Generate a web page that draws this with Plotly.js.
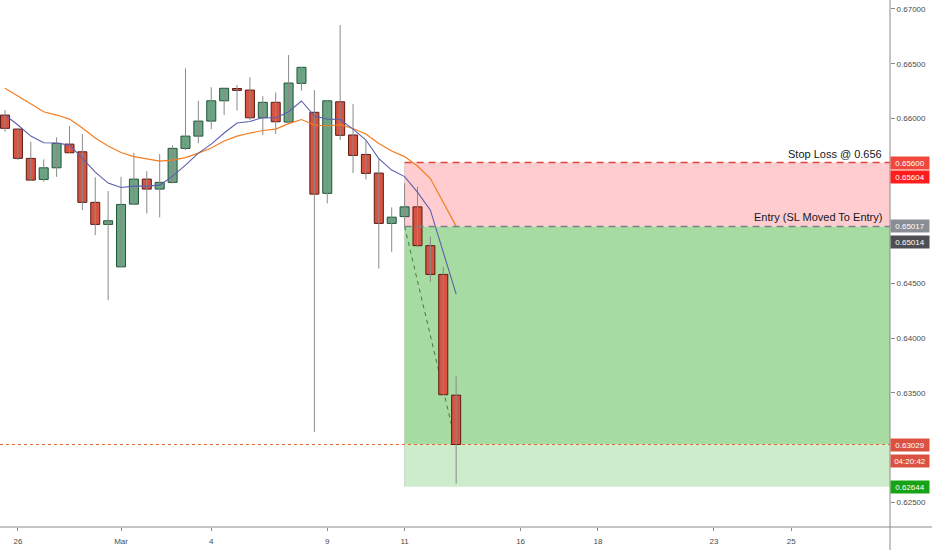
<!DOCTYPE html>
<html><head><meta charset="utf-8">
<script src="https://cdn.plot.ly/plotly-3.0.1.min.js"></script>
<style>html,body{margin:0;padding:0;background:#fff}#chart{width:932px;height:550px}</style>
</head><body><div id="chart"></div>
<script>
// ---- data ----
const xTickVals = [1, 9, 16, 25, 31, 40, 46, 55, 61];
const xTickText = ['26', 'Mar', '4', '9', '11', '16', '18', '23', '25'];
const yTickVals = [0.625, 0.635, 0.640, 0.645, 0.660, 0.665, 0.670];
const yTickText = ['0.62500', '0.63500', '0.64000', '0.64500', '0.66000', '0.66500', '0.67000'];

const open  = [0.66033,0.65905,0.65638,0.65446,0.65552,0.65768,0.65698,0.65237,0.65036,0.64649,0.65221,0.65449,0.65358,0.65419,0.65729,0.65841,0.65978,0.66163,0.66275,0.66261,0.66008,0.66149,0.65969,0.66322,0.66058,0.65319,0.66154,0.65851,0.65674,0.65504,0.65045,0.65107,0.65196,0.64842,0.64580,0.63479];
const high  = [0.66079,0.65914,0.65789,0.65629,0.65830,0.65933,0.65860,0.65465,0.65340,0.65470,0.65689,0.65522,0.65677,0.65759,0.66459,0.66163,0.66286,0.66279,0.66307,0.66377,0.66206,0.66240,0.66580,0.66471,0.66261,0.66170,0.66854,0.66133,0.65796,0.65638,0.65191,0.65410,0.65379,0.64925,0.64649,0.63652];
const low   = [0.65881,0.65622,0.65434,0.65424,0.65470,0.65684,0.65166,0.64938,0.64345,0.64644,0.65212,0.65136,0.65100,0.65410,0.65714,0.65775,0.65905,0.66033,0.66074,0.65987,0.65851,0.65860,0.65965,0.66255,0.63144,0.65227,0.65805,0.65504,0.65445,0.64634,0.64786,0.65023,0.64829,0.64512,0.63479,0.62673];
const close = [0.65912,0.65638,0.65440,0.65552,0.65775,0.65689,0.65237,0.65036,0.65069,0.65218,0.65449,0.65358,0.65419,0.65729,0.65841,0.65978,0.66163,0.66277,0.66258,0.66008,0.66149,0.65972,0.66325,0.66468,0.65312,0.66163,0.65848,0.65665,0.65501,0.65045,0.65102,0.65196,0.64842,0.64580,0.63483,0.63029];

const maFast = [0.66033,0.65942,0.65841,0.65780,0.65778,0.65759,0.65641,0.65513,0.65413,0.65372,0.65385,0.65385,0.65394,0.65476,0.65577,0.65686,0.65768,0.65869,0.65960,0.65974,0.66010,0.66006,0.66063,0.66161,0.66024,0.65996,0.65992,0.65905,0.65805,0.65636,0.65531,0.65472,0.65330,0.65166,0.64783,0.64400];
const maSlow = [0.66277,0.66206,0.66142,0.66063,0.66033,0.65996,0.65914,0.65823,0.65750,0.65691,0.65654,0.65632,0.65613,0.65622,0.65645,0.65686,0.65732,0.65796,0.65841,0.65869,0.65892,0.65905,0.65955,0.65992,0.65942,0.65933,0.65946,0.65910,0.65860,0.65773,0.65705,0.65654,0.65568,0.65454,0.65239,0.65020];

const entryPrice = 0.65017;
const stopPrice = 0.65600;
const targetPrice = 0.62644;
const lastPrice = 0.63029;
const entryBar = 31;
const lastBar = 35;

const stopText = 'Stop Loss @ 0.656';
const entryText = 'Entry (SL Moved To Entry)';
const scaleLabelValues = [0.65600, 0.65604, 0.65017, 0.65014, 0.63029, 0.63029, 0.62644];
const scaleLabelTexts  = ['0.65600', '0.65604', '0.65017', '0.65014', '0.63029', '04:20:42', '0.62644'];

// ---- build ----
const idx = open.map((_, i) => i);
const xMin = -0.39, xMax = 68.66;
const font = 'Liberation Sans, Arial, sans-serif';

const up = open.map((o, i) => close[i] >= o);
const bodyBase = open.map((o, i) => Math.min(o, close[i]));
const bodyH = open.map((o, i) => Math.abs(close[i] - o));

const traces = [
  {type: 'scatter', mode: 'lines', x: idx, y: maSlow, line: {color: '#f57c1f', width: 1.2}, hoverinfo: 'skip'},
  {type: 'scatter', mode: 'lines', x: idx, y: maFast, line: {color: '#5c5fae', width: 1.1}, hoverinfo: 'skip'},
  {type: 'ohlc', x: idx, open: open, high: high, low: low, close: close, tickwidth: 0,
   increasing: {line: {color: '#8a8a8a', width: 1}}, decreasing: {line: {color: '#8a8a8a', width: 1}}, hoverinfo: 'skip'},
  {type: 'bar', x: idx, base: bodyBase, y: bodyH, width: 0.7,
   marker: {color: up.map(u => u ? '#6ba583' : '#d75442'),
            line: {color: up.map(u => u ? '#225437' : '#5b1a13'), width: 1}}, hoverinfo: 'skip'}
];

const shapes = [
  {type: 'rect', layer: 'below', xref: 'x', yref: 'y', x0: entryBar, x1: xMax, y0: entryPrice, y1: stopPrice, fillcolor: '#ffcdcf', line: {width: 0}},
  {type: 'rect', layer: 'below', xref: 'x', yref: 'y', x0: entryBar, x1: xMax, y0: lastPrice, y1: entryPrice, fillcolor: '#a6dca1', line: {width: 0}},
  {type: 'rect', layer: 'below', xref: 'x', yref: 'y', x0: entryBar, x1: xMax, y0: targetPrice, y1: lastPrice, fillcolor: '#cdeccc', line: {width: 0}},
  {type: 'line', layer: 'below', xref: 'x', yref: 'y', x0: entryBar, x1: entryBar, y0: targetPrice, y1: stopPrice, line: {color: 'rgba(0,0,0,0.12)', width: 1}},
  {type: 'line', layer: 'below', xref: 'x', yref: 'y', x0: entryBar, x1: lastBar, y0: entryPrice, y1: lastPrice, line: {color: 'rgba(50,90,55,0.8)', width: 1, dash: '4px,4px'}},
  {type: 'line', layer: 'below', xref: 'x', yref: 'y', x0: xMin, x1: xMax, y0: lastPrice, y1: lastPrice, line: {color: '#e0673e', width: 1, dash: 'dot'}},
  {type: 'line', xref: 'x', yref: 'y', x0: entryBar, x1: xMax, y0: stopPrice, y1: stopPrice, line: {color: '#e0433a', width: 1.6, dash: '7px,5px'}},
  {type: 'line', xref: 'x', yref: 'y', x0: entryBar, x1: xMax, y0: entryPrice, y1: entryPrice, line: {color: '#7d8088', width: 1.6, dash: '7px,5px'}},
  {type: 'line', xref: 'paper', yref: 'paper', x0: 0, x1: 932 / 890, y0: 0, y1: 0, line: {color: '#8a8a8a', width: 1}},
  {type: 'line', xref: 'paper', yref: 'paper', x0: 1, x1: 1, y0: -23 / 527, y1: 1, line: {color: '#8a8a8a', width: 1}}
];

const boxColors = ['#f0483c', '#ff1e1e', '#8a8d93', '#4e4f52', '#dc5240', '#dc5240', '#17a317'];
const boxShift = [0, -15, 0, -15, 0, -16, 0];
const annotations = scaleLabelValues.map((v, i) => ({
  xref: 'paper', yref: 'y', x: 1, y: v, xanchor: 'left', yanchor: 'middle', yshift: boxShift[i],
  text: scaleLabelTexts[i], showarrow: false, bgcolor: boxColors[i], width: 38, height: 12, borderpad: 0,
  align: 'center', font: {family: font, size: 8, color: '#ffffff'}
}));
annotations.push({xref: 'paper', yref: 'y', x: 884 / 890, y: stopPrice, xanchor: 'right', yanchor: 'bottom', yshift: 1,
  text: stopText, showarrow: false, font: {family: font, size: 11, color: '#131722'}});
annotations.push({xref: 'paper', yref: 'y', x: 884 / 890, y: entryPrice, xanchor: 'right', yanchor: 'bottom', yshift: 1,
  text: entryText, showarrow: false, font: {family: font, size: 11, color: '#131722'}});

const layout = {
  width: 932, height: 550, margin: {l: 0, r: 42, t: 0, b: 23},
  paper_bgcolor: '#ffffff', plot_bgcolor: '#ffffff', showlegend: false, hovermode: false, bargap: 0,
  xaxis: {range: [xMin, xMax], tickmode: 'array', tickvals: xTickVals, ticktext: xTickText, ticks: 'outside', ticklen: 3,
          tickcolor: '#8a8a8a', showgrid: false, zeroline: false, showline: false, rangeslider: {visible: false},
          ticklabelstandoff: 3, tickfont: {family: font, size: 8, color: '#4a4a4a'}, fixedrange: true},
  yaxis: {side: 'right', range: [0.62277, 0.67082], tickmode: 'array', tickvals: yTickVals, ticktext: yTickText,
          ticks: 'outside', ticklen: 4, tickcolor: '#8a8a8a', showgrid: false, zeroline: false, showline: false,
          tickfont: {family: font, size: 8, color: '#4a4a4a'}, fixedrange: true},
  shapes: shapes, annotations: annotations
};

Plotly.newPlot('chart', traces, layout, {displayModeBar: false, staticPlot: true});
</script>
</body></html>
